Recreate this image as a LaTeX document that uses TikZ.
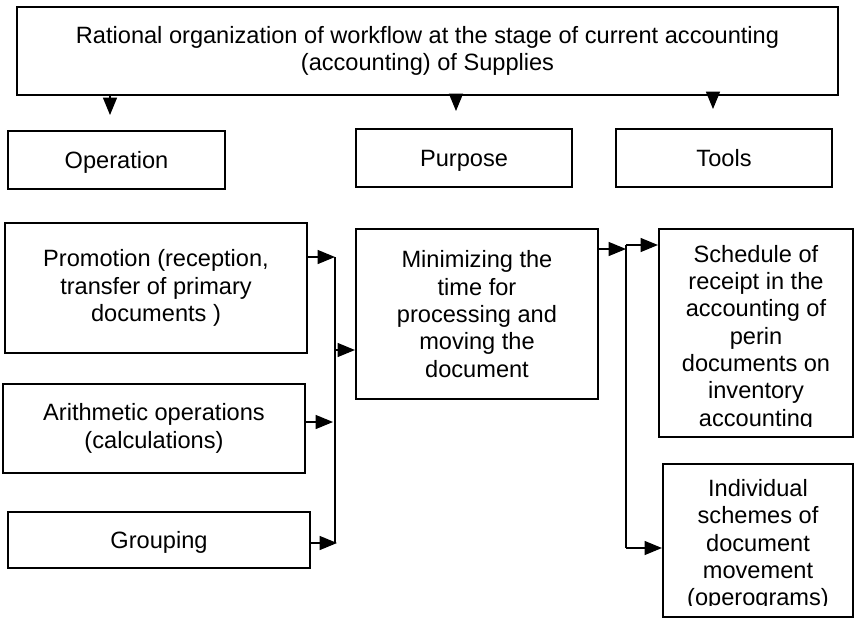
\documentclass[tikz,border=0pt]{standalone}
\usepackage{fontspec}
\setmainfont{Liberation Sans}
\usetikzlibrary{arrows.meta}
\tikzset{
  txt/.style={font=\fontsize{17.7}{20.5}\selectfont, align=center, inner sep=0pt},
  box/.style={txt, draw, line width=1.6pt},
  oneline/.style={execute at begin node={\rule[-6.15pt]{0pt}{24.35pt}}},
  arr/.style={-{Triangle[length=13pt,width=10.5pt]}, line width=0.9pt},
}
\begin{document}
\begin{tikzpicture}[x=0.75pt,y=-0.75pt]
      \useasboundingbox (0,0) rectangle (854,619);
      \draw
        (427.5,51) node[box,minimum width=615.75pt,minimum height=66pt] (top)
          {Rational organization of workflow at the stage of current accounting\\(accounting) of Supplies}
        (116.5,160) node[box,oneline,minimum width=162.75pt,minimum height=43.5pt] (op){Operation}
        (464,158) node[box,oneline,minimum width=162pt,minimum height=43.5pt] (purp){Purpose}
        (724,158) node[box,oneline,minimum width=162pt,minimum height=43.5pt] (tools){Tools}
        (156,288) node[box,minimum width=226.5pt,minimum height=97.5pt] (promo)
          {Promotion (reception,\\transfer of primary\\documents )}
        (154,428.5) node[box,minimum width=226.5pt,minimum height=66.75pt] (arith)
          {Arithmetic operations\\(calculations)}
        (159,540) node[box,oneline,minimum width=226.5pt,minimum height=42pt] (group){Grouping}
        (477,314) node[box,minimum width=181.5pt,minimum height=127.5pt] (mini)
          {Minimizing the\\time for\\processing and\\moving the\\document}
        (756,333) node[box,minimum width=145.5pt,minimum height=156pt] (sched){}
        (758,540.5) node[box,minimum width=142.5pt,minimum height=114.75pt] (indiv){};
      % text cut off at the foot of the two tool boxes
      \begin{scope}
        \clip (sched.north west) rectangle ([yshift=9pt]sched.south east);
        \node[txt] (schedtext) at ([yshift=-3.75pt]sched.center)
          {Schedule of\\receipt in the\\accounting of\\perin\\documents on\\inventory\\accounting};
      \end{scope}
      \begin{scope}
        \clip (indiv.north west) rectangle ([yshift=9.5pt]indiv.south east);
        \node[txt] (indivtext) at ([yshift=-3.5pt]indiv.center)
          {Individual\\schemes of\\document\\movement\\(operograms)};
      \end{scope}
      \coordinate (a1) at (110,115);
      \coordinate (a2) at (456,111);
      \coordinate (a3) at (713,109);
      \coordinate (lt) at (335,257);
      \coordinate (la) at (333,422);
      \coordinate (lb) at (337,543);
      \coordinate (lm) at (335,350);
      \coordinate (rt) at (626,249);
      \coordinate (rs) at (626,245);
      \coordinate (rb) at (626,548);
      \begin{scope}[arr]
        \draw (top.south -| a1) to (a1);
        \draw (top.south -| a2) to (a2);
        \draw (top.south -| a3) to (a3);
        \draw (promo.east |- lt) to (lt);
        \draw (arith.east |- la) to (la);
        \draw (group.east |- lb) to (lb);
        \draw (lm) to (mini.west |- lm);
        \draw (mini.east |- rt) to (rt);
        \draw (rs) to (sched.west |- rs);
        \draw (rb) to (indiv.west |- rb);
      \end{scope}
      \begin{scope}[-, line width=0.9pt]
        \draw (lt) to (335,543);
        \draw (rs) to (rb);
      \end{scope}
    \end{tikzpicture}
\end{document}
